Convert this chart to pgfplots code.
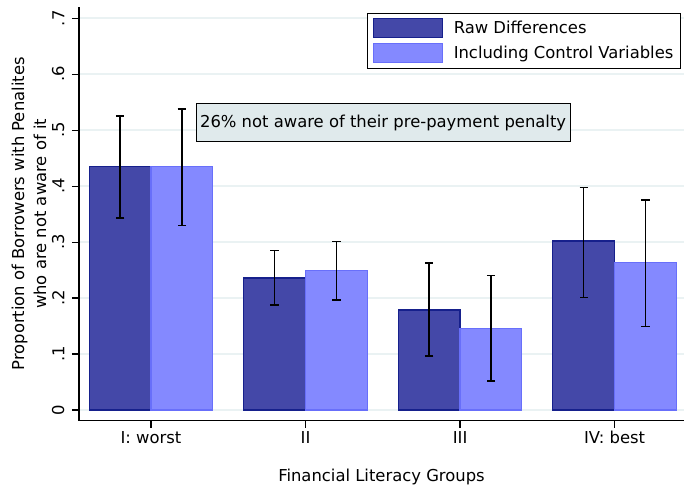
\documentclass[border=0pt]{standalone}
\usepackage{fontspec}
\setmainfont{DejaVu Sans}
\usepackage{pgfplots}
\pgfplotsset{compat=1.18}
\definecolor{darkfill}{RGB}{68,72,168}
\definecolor{darkedge}{RGB}{22,32,140}
\definecolor{lightfill}{RGB}{132,137,255}
\definecolor{lightedge}{RGB}{104,111,250}
\definecolor{gridc}{RGB}{234,242,243}
\definecolor{boxfill}{RGB}{224,234,236}
\begin{document}
\begin{tikzpicture}
\path[use as bounding box] (-79pt,-65.3pt) rectangle (606pt,420.7pt);
\begin{axis}[
  at={(0,0)}, anchor=south west,
  scale only axis, width=605pt, height=413.7pt,
  xmin=0.534, xmax=4.449, ymin=-0.019, ymax=0.72,
  axis x line*=bottom, axis y line*=left,
  axis line style={line width=1.4pt, black},
  every tick/.style={line width=1.2pt, black},
  tick align=outside, major tick length=7pt,
  xtick={1,2,3,4},
  xticklabels={I: worst,II,III,IV: best},
  ytick={0,0.1,0.2,0.3,0.4,0.5,0.6,0.7},
  yticklabels={0,.1,.2,.3,.4,.5,.6,.7},
  yticklabel style={rotate=90, anchor=south, yshift=4pt},
  ymajorgrids, grid style={gridc, line width=1.4pt},
  font=\fontsize{16.4}{22}\selectfont,
  xlabel={Financial Literacy Groups},
  xlabel style={at={(axis description cs:0.5,0)}, anchor=center, yshift=-56pt},
  ylabel={Proportion of Borrowers with Penalites\\who are not aware of it},
  ylabel style={align=center, at={(axis description cs:0,0.5)}, anchor=south, yshift=29pt},
  legend cell align=left,
  legend style={at={(rel axis cs:0.995,0.986)}, anchor=north east, draw=black, line width=1.2pt, font=\fontsize{16.4}{20}\selectfont, row sep=5pt, column sep=9pt, inner sep=5pt},
  legend image code/.code={\draw[#1, line width=1pt] (0pt,-9.5pt) rectangle (69pt,9.5pt);},
  error bars/error bar style={line width=1.5pt, black},
  error bars/error mark options={rotate=90, mark size=4.2pt, line width=1.5pt, black},
]
\addplot[ybar, bar width=0.4, bar shift=0pt, fill=darkfill, draw=darkedge, line width=1.2pt,
  error bars/.cd, y dir=both, y explicit]
  coordinates {
  (0.8,0.4345) += (0,0.0905) -= (0,0.0915)
  (1.8,0.236) += (0,0.049) -= (0,0.0485)
  (2.8,0.1786) += (0,0.0839) -= (0,0.0816)
  (3.8,0.302) += (0,0.096) -= (0,0.101)
  };
\addlegendentry{Raw Differences}
\addplot[ybar, bar width=0.4, bar shift=0pt, fill=lightfill, draw=lightedge, line width=1.2pt,
  error bars/.cd, y dir=both, y explicit]
  coordinates {
  (1.2,0.4345) += (0,0.103) -= (0,0.1045)
  (2.2,0.25) += (0,0.051) -= (0,0.053)
  (3.2,0.146) += (0,0.094) -= (0,0.094)
  (4.2,0.263) += (0,0.1125) -= (0,0.114)
  };
\addlegendentry{Including Control Variables}
\node[draw=black, line width=1.2pt, fill=boxfill, minimum width=374pt, minimum height=38pt, inner sep=0pt, font=\fontsize{16.4}{20}\selectfont] at (axis cs:2.502,0.5134) {26\% not aware of their pre-payment penalty};
\end{axis}
\end{tikzpicture}
\end{document}
